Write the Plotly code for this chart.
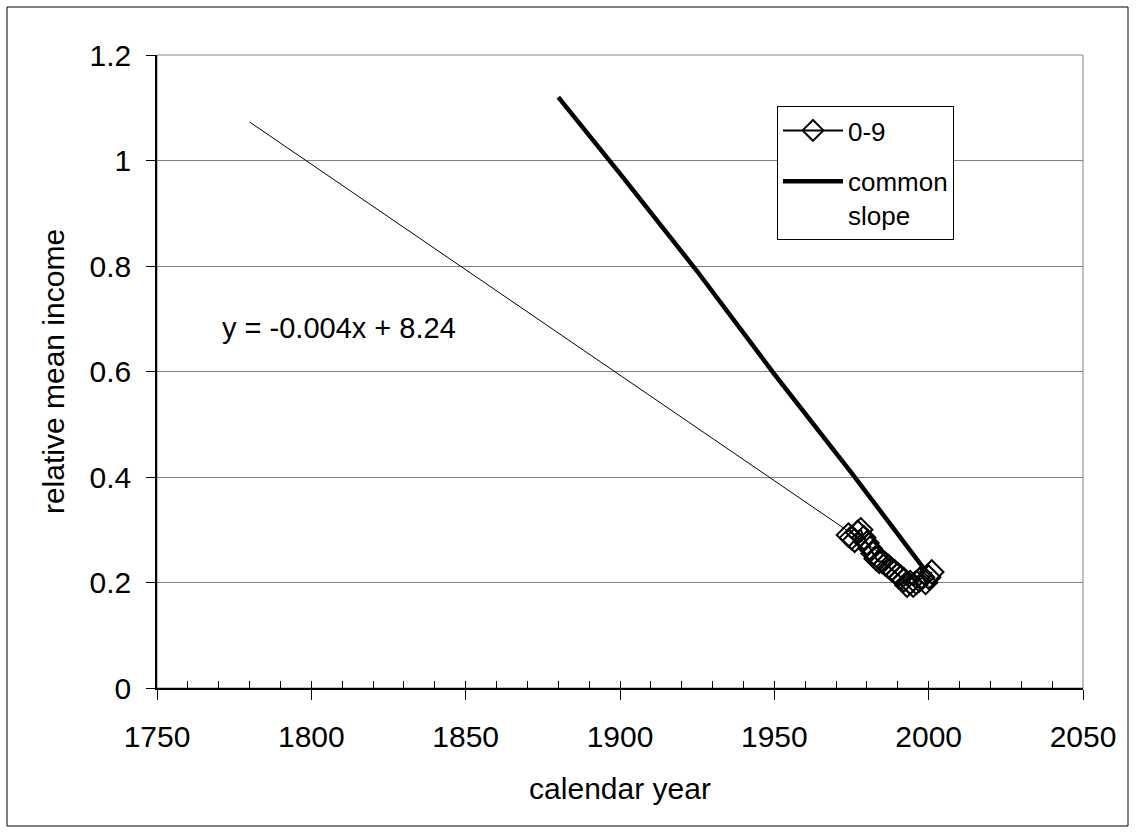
import plotly.graph_objects as go

# ---- data ----
years_09 = [1974, 1975, 1976, 1977, 1978, 1979, 1980, 1981, 1982, 1983, 1984, 1985, 1986, 1987,
            1988, 1989, 1990, 1991, 1992, 1993, 1994, 1995, 1996, 1997, 1998, 1999, 2000, 2001]
vals_09 = [0.290, 0.285, 0.280, 0.295, 0.300, 0.285, 0.275, 0.265, 0.255, 0.245, 0.240, 0.240,
           0.235, 0.230, 0.225, 0.220, 0.215, 0.210, 0.205, 0.195, 0.200, 0.195, 0.200, 0.205,
           0.210, 0.200, 0.210, 0.220]

years_common = [1880, 1900, 1925, 1950, 1975, 1999]
vals_common = [1.12, 0.975, 0.79, 0.595, 0.408, 0.222]

trend_years = [1780, 2001]
trend_vals = [1.073, 0.189]

x_ticks = [1750, 1800, 1850, 1900, 1950, 2000, 2050]
y_ticks = [0, 0.2, 0.4, 0.6, 0.8, 1.0, 1.2]
y_tick_text = ["0", "0.2", "0.4", "0.6", "0.8", "1", "1.2"]

FONT = "Liberation Sans, Arial, sans-serif"

fig = go.Figure()

fig.add_trace(go.Scatter(
    x=trend_years, y=trend_vals, mode="lines",
    line=dict(color="black", width=1), showlegend=False, hoverinfo="skip"))

fig.add_trace(go.Scatter(
    x=years_09, y=vals_09, mode="lines+markers", name="0-9",
    line=dict(color="black", width=2),
    marker=dict(symbol="diamond-open", size=18, color="black", line=dict(width=2, color="black")),
    legendgroup="a"))

fig.add_trace(go.Scatter(
    x=years_common, y=vals_common, mode="lines", name="common<br>slope",
    line=dict(color="black", width=4.5), legendgroup="b"))

# invisible trace to carry the secondary axis used for inside tick marks
fig.add_trace(go.Scatter(
    x=[x_ticks[0], x_ticks[-1]], y=[0, 0], xaxis="x2", mode="lines",
    line=dict(width=0, color="rgba(0,0,0,0)"), showlegend=False, hoverinfo="skip"))

L, R, T, B = 157, 53, 55, 144
W, H = 1136, 832
pw, ph = W - L - R, H - T - B

def px(x):
    return (x - L) / pw

def py(y):
    return (H - B - y) / ph

fig.update_layout(
    width=W, height=H,
    margin=dict(l=L, r=R, t=T, b=B),
    paper_bgcolor="white", plot_bgcolor="white",
    font=dict(family=FONT, size=30, color="black"),
    xaxis=dict(
        range=[x_ticks[0], x_ticks[-1]], tickvals=x_ticks, ticks="outside", ticklen=10,
        tickwidth=1, tickcolor="black", showline=True, linecolor="black", linewidth=1.5,
        showgrid=False, zeroline=False, ticklabelstandoff=11,
        tickfont=dict(size=30, family=FONT),
        title=dict(text="calendar year", font=dict(size=30, family=FONT), standoff=26)),
    xaxis2=dict(
        range=[x_ticks[0], x_ticks[-1]], overlaying="x", anchor="y", side="bottom",
        dtick=10, tick0=1750, ticks="inside", ticklen=7, tickwidth=1, tickcolor="black",
        showticklabels=False, showgrid=False, showline=False, zeroline=False),
    yaxis=dict(
        range=[0, 1.2], tickvals=y_ticks, ticktext=y_tick_text, ticks="outside", ticklen=9,
        tickwidth=1, tickcolor="black", showline=True, linecolor="black", linewidth=1.5,
        showgrid=True, gridcolor="#808080", gridwidth=1, zeroline=False,
        ticklabelstandoff=9, tickfont=dict(size=30, family=FONT),
        title=dict(text="relative mean income", font=dict(size=30, family=FONT), standoff=16)),
    legend=dict(
        x=px(777), y=py(106), xanchor="left", yanchor="top",
        bordercolor="black", borderwidth=1, bgcolor="white",
        font=dict(size=26, family=FONT), traceorder="grouped", tracegroupgap=14,
        valign="top", itemwidth=60),
    shapes=[
        dict(type="rect", xref="paper", yref="paper", x0=0, y0=0, x1=1, y1=1,
             line=dict(color="#808080", width=1), layer="below"),
        dict(type="rect", xref="paper", yref="paper",
             x0=px(7), x1=px(1128), y0=py(826), y1=py(7),
             line=dict(color="black", width=1)),
    ],
    annotations=[
        dict(text="y = -0.004x + 8.24", x=1770.4, y=0.6825, xref="x", yref="y",
             xanchor="left", yanchor="middle", showarrow=False,
             font=dict(size=29, family=FONT, color="black")),
    ],
)

fig.write_html("out.html",
               config={"displayModeBar": False},
               post_script="document.body.style.margin='0';document.body.style.overflow='hidden';")
